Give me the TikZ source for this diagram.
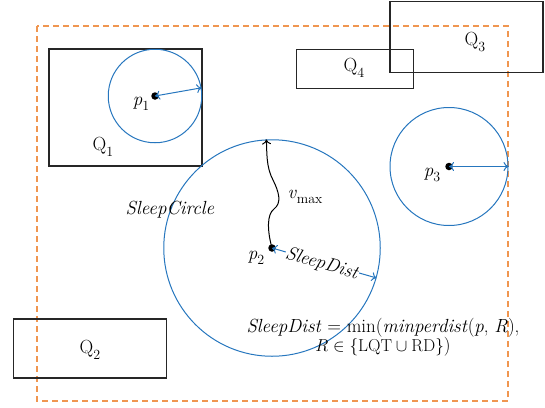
\documentclass[tikz,border=0pt]{standalone}
\usetikzlibrary{arrows.meta}
\definecolor{zoneblue}{RGB}{38,118,190}
\definecolor{regionorange}{RGB}{240,150,80}
\newcommand{\sub}[1]{\raisebox{-0.28em}{\fontsize{14}{16}\selectfont #1}}
\begin{document}
\begin{tikzpicture}[x=1pt,y=-1pt,
  every node/.style={font=\fontsize{19}{22}\selectfont},
  querybox/.style={draw=black!85,line width=1.3pt},
  zone/.style={circle,draw=zoneblue,line width=1pt,inner sep=0pt},
  peer/.style={circle,fill=black,inner sep=0pt,minimum size=7.5pt},
  radius arrow/.style={draw=zoneblue,line width=1pt,{To[length=5pt,width=9pt]}-{To[length=5pt,width=9pt]}},
  lbl/.style={inner sep=1pt}]
\useasboundingbox (0,0) rectangle (545,407);

% monitored region
\draw[regionorange,line width=1.2pt,dash pattern=on 6pt off 4pt] (37,26) rectangle (508,401);

% query rectangles
\node[querybox,minimum width=153pt,minimum height=117pt,inner sep=0pt] (q1) at (125.5,107.5) {};
\node[querybox,minimum width=153pt,minimum height=59pt,inner sep=0pt] (q2) at (90,348.5) {};
\node[querybox,minimum width=153pt,minimum height=70.5pt,inner sep=0pt] (q3) at (466.5,37) {};
\node[querybox,minimum width=117.5pt,minimum height=39.5pt,inner sep=0pt] (q4) at (355,69) {};
\node[lbl] (q1l) at (103,147) {Q\sub{1}};
\node[lbl] (q2l) at (90,350) {Q\sub{2}};
\node[lbl] (q3l) at (475,42) {Q\sub{3}};
\node[lbl] (q4l) at (354,68) {Q\sub{4}};

% peers and their sleep circles
\node[zone,minimum size=93.5pt] (c1) at (155,96) {};
\node[zone,minimum size=216.5pt] (c2) at (272,248) {};
\node[zone,minimum size=118pt] (c3) at (449,166.5) {};
\node[peer] (p1) at (155,96) {};
\node[peer] (p2) at (272,248) {};
\node[peer] (p3) at (449,166.5) {};
\node[lbl] (p1l) at (141,104) {\textit{p}\sub{1}};
\node[lbl] (p2l) at (256,258) {\textit{p}\sub{2}};
\node[lbl] (p3l) at (432,175) {\textit{p}\sub{3}};

% sleep distances
\draw[radius arrow] (p1.center) -- (c1.10);
\draw[radius arrow] (p3.center) -- (c3.0);
\draw[radius arrow] (p2.center) -- (c2.-16);
\node[lbl,rotate=-16,fill=white,inner sep=0.5pt] (sdl) at (322,264) {\textit{SleepDist}};

% maximum speed path
\coordinate (vtop) at (c2.93);
\draw[black,line width=1pt,-{To[length=5pt,width=9pt]}] (p2.center)
  .. controls (267,230) and (267,214) .. (274,209)
  .. controls (282,203) and (279,192) .. (273,180)
  .. controls (266,167) and (267,152) .. (vtop);
\node[lbl] (vl) at (305,197) {\textit{v}\sub{max}};

\node[lbl] (scl) at (170,210) {\textit{SleepCircle}};

% definition of the sleep distance
\node[lbl,align=center] (def) at (383,337.5)
  {\textit{SleepDist} = min(\textit{minperdist}(\textit{p}, \textit{R}),\\[-3pt]
   $R\in\{\mathrm{LQT}\cup\mathrm{RD}\}$)};
\end{tikzpicture}
\end{document}
